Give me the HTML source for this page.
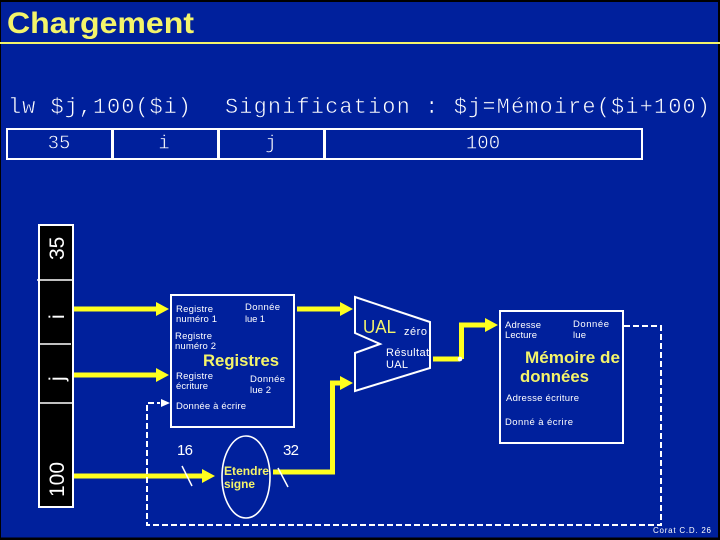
<!DOCTYPE html>
<html><head><meta charset="utf-8"><style>
html,body{margin:0;padding:0;background:#000}
svg{display:block}
.m{font-family:"Liberation Mono",monospace;fill:#fff;font-size:22px;stroke:#00209c;stroke-width:.55px}
.c{font-size:19px;stroke-width:.5px}
.s{font-family:"Liberation Sans",sans-serif;fill:#fff;font-size:9.5px}
.y{font-family:"Liberation Sans",sans-serif;fill:#f4f46a;font-size:17px;font-weight:bold}
</style></head><body>
<svg width="720" height="540" viewBox="0 0 720 540" xmlns="http://www.w3.org/2000/svg">
<rect width="720" height="540" fill="#000"/>
<rect x="1" y="2" width="717" height="535.5" fill="#00209c"/>
<text x="7" y="33" font-family="Liberation Sans,sans-serif" font-weight="bold" font-size="30" fill="#f4f46a" textLength="187" lengthAdjust="spacingAndGlyphs">Chargement</text>
<rect x="0" y="42" width="720" height="2" fill="#f4f46a"/>
<text class="m" x="8" y="113" textLength="183">lw $j,100($i)</text>
<text class="m" x="225" y="113" textLength="485">Signification : $j=Mémoire($i+100)</text>
<rect x="7" y="129" width="635" height="30" fill="none" stroke="#fff" stroke-width="2"/>
<path d="M112.5 129V159M218.5 129V159M324.5 129V159" stroke="#fff" stroke-width="3" fill="none"/>
<text class="m c" x="59" y="148.5" text-anchor="middle">35</text>
<text class="m c" x="164" y="148.5" text-anchor="middle">i</text>
<text class="m c" x="271" y="148.5" text-anchor="middle">j</text>
<text class="m c" x="483" y="148.5" text-anchor="middle">100</text>

<rect x="39" y="225" width="34" height="282" fill="#000" stroke="#fff" stroke-width="2"/>
<path d="M37 280H73M39 344H71M39 403H73" stroke="#fff" stroke-width="1.5" fill="none"/>
<g font-family="Liberation Sans,sans-serif" font-size="21" fill="#fff">
<text transform="translate(64,260) rotate(-90)">35</text>
<text transform="translate(64,319) rotate(-90)">i</text>
<text transform="translate(64,381) rotate(-90)">j</text>
<text transform="translate(64,497) rotate(-90)" textLength="35" lengthAdjust="spacingAndGlyphs">100</text>
</g>

<g fill="#ffff1e">
<rect x="74" y="306.5" width="84" height="5"/><path d="M156 302L169 309L156 316Z"/>
<rect x="74" y="372.5" width="84" height="5"/><path d="M156 368L169 375L156 382Z"/>
<rect x="74" y="473.5" width="130" height="5"/><path d="M202 469L215 476L202 483Z"/>
<rect x="297" y="306.5" width="45" height="5"/><path d="M340 302L353 309L340 316Z"/>
<path d="M273 469.5H330V380.5H342V385.5H335V474.5H273Z"/>
<path d="M340 376L353 383L340 390Z"/>
<rect x="433" y="356.5" width="27" height="5"/>
<path d="M459 322.5H488V327.5H464V359H459Z"/>
<path d="M485 318L498 325L485 332Z"/>
</g>
<circle cx="460" cy="359" r="2.3" fill="#fff"/>

<rect x="171" y="295" width="123" height="132" fill="none" stroke="#fff" stroke-width="2"/>
<rect x="500" y="311" width="123" height="132" fill="none" stroke="#fff" stroke-width="2"/>
<path d="M355 297L430 322V368L355 391V353L380 344L355 333Z" fill="none" stroke="#fff" stroke-width="2"/>

<path d="M624 326H661V525H147V403H160" fill="none" stroke="#fff" stroke-width="2" stroke-dasharray="6 3"/>
<path d="M161 399L170 403L161 407Z" fill="#fff"/>

<ellipse cx="246" cy="477" rx="24" ry="41" fill="none" stroke="#fff" stroke-width="1.6"/>
<path d="M182 466L192 486M278 468L288 487" stroke="#fff" stroke-width="1.5" fill="none"/>

<g>
<text class="s" x="176" y="312" textLength="37">Registre</text>
<text class="s" x="176" y="322" textLength="41">numéro 1</text>
<text class="s" x="245" y="310" textLength="35">Donnée</text>
<text class="s" x="245" y="322" textLength="20">lue 1</text>
<text class="s" x="175" y="339" textLength="37">Registre</text>
<text class="s" x="175" y="349" textLength="41">numéro 2</text>
<text class="s" x="176" y="379" textLength="37">Registre</text>
<text class="s" x="176" y="389" textLength="32">écriture</text>
<text class="s" x="250" y="382" textLength="35">Donnée</text>
<text class="s" x="250" y="393" textLength="21">lue 2</text>
<text class="s" x="176" y="409" textLength="70">Donnée à écrire</text>
<text class="y" x="203" y="366" textLength="76" lengthAdjust="spacingAndGlyphs">Registres</text>
<text x="363" y="333" font-family="Liberation Sans,sans-serif" font-size="18" fill="#f4f46a" textLength="33" lengthAdjust="spacingAndGlyphs">UAL</text>
<text class="s" x="404" y="335" style="font-size:11px" textLength="23">zéro</text>
<text class="s" x="386" y="356" style="font-size:11px" textLength="43">Résultat</text>
<text class="s" x="386" y="368" style="font-size:11px" textLength="22">UAL</text>
<text class="s" x="505" y="328" textLength="36">Adresse</text>
<text class="s" x="505" y="338" textLength="32">Lecture</text>
<text class="s" x="573" y="327" textLength="36">Donnée</text>
<text class="s" x="573" y="338" textLength="13">lue</text>
<text class="y" x="525" y="363" textLength="95" lengthAdjust="spacingAndGlyphs">Mémoire de</text>
<text class="y" x="520" y="382" textLength="69" lengthAdjust="spacingAndGlyphs">données</text>
<text class="s" x="506" y="401" textLength="73">Adresse écriture</text>
<text class="s" x="505" y="425" textLength="68">Donné  à écrire</text>
<text x="177" y="455" font-family="Liberation Sans,sans-serif" font-size="15" fill="#fff" textLength="16">16</text>
<text x="283" y="455" font-family="Liberation Sans,sans-serif" font-size="15" fill="#fff" textLength="16">32</text>
<text x="224" y="475" font-family="Liberation Sans,sans-serif" font-weight="bold" font-size="12" fill="#f4f46a" textLength="45" lengthAdjust="spacingAndGlyphs">Etendre</text>
<text x="224" y="488" font-family="Liberation Sans,sans-serif" font-weight="bold" font-size="12" fill="#f4f46a" textLength="31" lengthAdjust="spacingAndGlyphs">signe</text>
<text x="653" y="533" font-family="Liberation Sans,sans-serif" font-size="8" fill="#fff" textLength="58">Corat C.D. 26</text>
</g>
</svg>
</body></html>
